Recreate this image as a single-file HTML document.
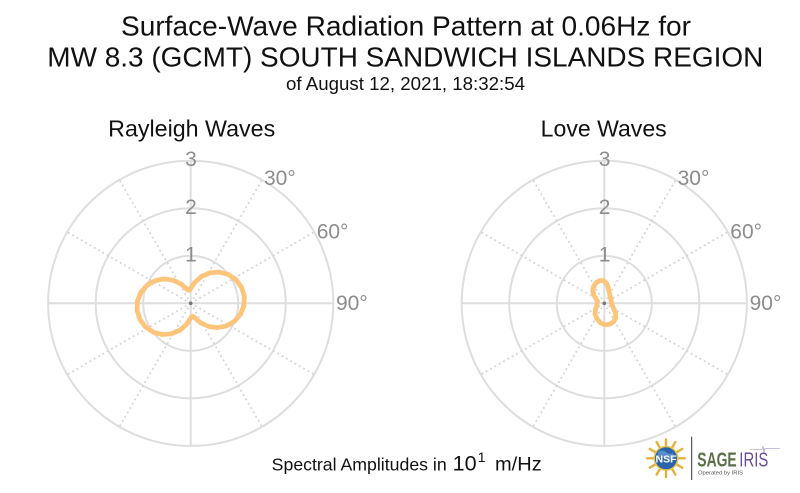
<!DOCTYPE html>
<html>
<head>
<meta charset="utf-8">
<style>
html,body{margin:0;padding:0;background:#fff;}
svg{display:block;}
text{font-family:"Liberation Sans",Arial,sans-serif;}
</style>
</head>
<body>
<svg width="800" height="493" viewBox="0 0 800 493" xmlns="http://www.w3.org/2000/svg">
<rect width="800" height="493" fill="#fff"/>

<!-- Titles -->
<text x="406" y="35.7" font-size="28" fill="#111" text-anchor="middle" textLength="570" lengthAdjust="spacingAndGlyphs">Surface-Wave Radiation Pattern at 0.06Hz for</text>
<text x="405.3" y="66.7" font-size="28" fill="#111" text-anchor="middle" textLength="716" lengthAdjust="spacingAndGlyphs">MW 8.3 (GCMT) SOUTH SANDWICH ISLANDS REGION</text>
<text x="405.5" y="90" font-size="18.6" fill="#111" text-anchor="middle" textLength="239" lengthAdjust="spacingAndGlyphs">of August 12, 2021, 18:32:54</text>
<text x="191.7" y="136.7" font-size="23" fill="#111" text-anchor="middle" textLength="167" lengthAdjust="spacingAndGlyphs">Rayleigh Waves</text>
<text x="603.7" y="136.7" font-size="23" fill="#111" text-anchor="middle" textLength="126" lengthAdjust="spacingAndGlyphs">Love Waves</text>

<!-- Left polar grid -->
<g transform="translate(190.7,303.3)">
  <g fill="none" stroke="#dedede" stroke-width="2">
    <circle r="47.53"/><circle r="95.07"/><circle r="142.6"/>
    <line x1="0" y1="-142.6" x2="0" y2="142.6"/>
    <line x1="-142.6" y1="0" x2="142.6" y2="0"/>
  </g>
  <g stroke="#d4d4d4" stroke-width="1.8" stroke-dasharray="1.8 3.2">
    <line x1="0" y1="0" x2="71.3" y2="-123.5"/>
    <line x1="0" y1="0" x2="123.5" y2="-71.3"/>
    <line x1="0" y1="0" x2="123.5" y2="71.3"/>
    <line x1="0" y1="0" x2="71.3" y2="123.5"/>
    <line x1="0" y1="0" x2="-71.3" y2="123.5"/>
    <line x1="0" y1="0" x2="-123.5" y2="71.3"/>
    <line x1="0" y1="0" x2="-123.5" y2="-71.3"/>
    <line x1="0" y1="0" x2="-71.3" y2="-123.5"/>
  </g>
</g>
<g font-size="21" fill="#8c8c8c">
  <text x="191" y="166" text-anchor="middle">3</text>
  <text x="191" y="214" text-anchor="middle">2</text>
  <text x="191" y="261.7" text-anchor="middle">1</text>
  <text x="264" y="185">30°</text>
  <text x="316.7" y="238.3">60°</text>
  <text x="336" y="310">90°</text>
</g>

<!-- Right polar grid -->
<g transform="translate(604.3,303.3)">
  <g fill="none" stroke="#dedede" stroke-width="2">
    <circle r="47.53"/><circle r="95.07"/><circle r="142.6"/>
    <line x1="0" y1="-142.6" x2="0" y2="142.6"/>
    <line x1="-142.6" y1="0" x2="142.6" y2="0"/>
  </g>
  <g stroke="#d4d4d4" stroke-width="1.8" stroke-dasharray="1.8 3.2">
    <line x1="0" y1="0" x2="71.3" y2="-123.5"/>
    <line x1="0" y1="0" x2="123.5" y2="-71.3"/>
    <line x1="0" y1="0" x2="123.5" y2="71.3"/>
    <line x1="0" y1="0" x2="71.3" y2="123.5"/>
    <line x1="0" y1="0" x2="-71.3" y2="123.5"/>
    <line x1="0" y1="0" x2="-123.5" y2="71.3"/>
    <line x1="0" y1="0" x2="-123.5" y2="-71.3"/>
    <line x1="0" y1="0" x2="-71.3" y2="-123.5"/>
  </g>
</g>
<g font-size="21" fill="#8c8c8c" transform="translate(413.6,0)">
  <text x="191" y="166" text-anchor="middle">3</text>
  <text x="191" y="214" text-anchor="middle">2</text>
  <text x="191" y="261.7" text-anchor="middle">1</text>
  <text x="264" y="185">30°</text>
  <text x="316.7" y="238.3">60°</text>
  <text x="336" y="310">90°</text>
</g>

<!-- Rayleigh curve -->
<polygon fill="none" stroke="#fdc57b" stroke-width="4.8" stroke-linejoin="round"
points="188.98,290.41 190.07,289.53 191.37,287.44 193.12,284.65 195.46,281.65 201.86,276.21 210.08,272.75 219.21,272.09 228.16,274.44 235.90,279.66 241.52,287.19 244.31,296.14 243.96,305.52 240.52,314.26 234.42,321.32 226.39,325.95 217.42,327.69 208.58,326.51 200.97,322.95 197.93,320.67 195.50,318.43 193.71,316.75 192.42,316.19 191.33,317.07 190.03,319.16 188.28,321.95 185.94,324.95 179.54,330.39 171.32,333.85 162.19,334.51 153.24,332.16 145.50,326.94 139.88,319.41 137.09,310.46 137.44,301.08 140.88,292.34 146.98,285.28 155.01,280.65 163.98,278.91 172.82,280.09 180.43,283.65 183.47,285.93 185.90,288.17 187.69,289.85"/>

<!-- Love curve -->
<polygon fill="none" stroke="#fdc57b" stroke-width="4.8" stroke-linejoin="round"
points="610.7,298.8 609.3,292.3 608.1,287.3 606.5,283.1 603.5,280.7 600,280.5 596.5,282.5 593.7,286.3 592.7,290.8 593.7,294.8 596,298.8 597.5,301.8 596.7,305.8 595.3,309.8 595.1,314.3 596.9,318.8 600.5,322.8 605,324.8 609.5,324.3 613.5,321.8 615.7,317.8 615.5,313.3 613.8,308.8 611.7,303.8"/>

<!-- center dots -->
<circle cx="190.7" cy="303.3" r="1.8" fill="#777"/>
<circle cx="604.3" cy="303.3" r="1.8" fill="#777"/>

<!-- Bottom axis label -->
<text x="271.7" y="470.5" font-size="17.6" fill="#111" textLength="175" lengthAdjust="spacingAndGlyphs">Spectral Amplitudes in</text>
<text x="452.7" y="470.5" font-size="21.5" fill="#111" textLength="24" lengthAdjust="spacingAndGlyphs">10</text>
<text x="477.8" y="462" font-size="14" fill="#111">1</text>
<text x="495" y="470.5" font-size="19" fill="#111" textLength="46.7" lengthAdjust="spacingAndGlyphs">m/Hz</text>

<!-- Logo -->
<g>
  <g stroke="#e3b23c" stroke-width="2.4" stroke-linecap="round">
    <line x1="666" y1="458.3" x2="666" y2="439.5"/>
    <line x1="666" y1="458.3" x2="675.4" y2="442"/>
    <line x1="666" y1="458.3" x2="682.3" y2="448.9"/>
    <line x1="666" y1="458.3" x2="684.8" y2="458.3"/>
    <line x1="666" y1="458.3" x2="682.3" y2="467.7"/>
    <line x1="666" y1="458.3" x2="675.4" y2="474.6"/>
    <line x1="666" y1="458.3" x2="666" y2="477.1"/>
    <line x1="666" y1="458.3" x2="656.6" y2="474.6"/>
    <line x1="666" y1="458.3" x2="649.7" y2="467.7"/>
    <line x1="666" y1="458.3" x2="647.2" y2="458.3"/>
    <line x1="666" y1="458.3" x2="649.7" y2="448.9"/>
    <line x1="666" y1="458.3" x2="656.6" y2="442"/>
  </g>
  <circle cx="666" cy="458.3" r="12.5" fill="#e9c24c"/>
  <circle cx="666" cy="458.3" r="11" fill="#2c63ad"/>
  <path d="M658,452 q4,-3 8,0 q3,3 7,1 l1,5 q-4,2 -7,0 q-5,-2 -9,2 z" fill="#6fa0d8" opacity="0.7"/>
  <text x="666" y="462.3" font-family="Liberation Serif,serif" font-size="10.5" font-weight="bold" fill="#fff" text-anchor="middle">NSF</text>
  <line x1="691.7" y1="436.7" x2="691.7" y2="480" stroke="#333" stroke-width="1"/>
  <text x="697.3" y="466.7" font-size="20" font-weight="bold" fill="#5b7048" textLength="39.4" lengthAdjust="spacingAndGlyphs">SAGE</text>
  <text x="739.3" y="466.7" font-family="Liberation Serif,serif" font-size="20" fill="#6a4c9c" textLength="29" lengthAdjust="spacingAndGlyphs">IRIS</text>
  <path d="M750,449.3 H762 l1,-3 l1,6 l1,-4 H780" fill="none" stroke="#a898c8" stroke-width="0.7"/>
  <text x="698" y="474.3" font-size="5.5" fill="#555" textLength="45" lengthAdjust="spacingAndGlyphs">Operated by IRIS</text>
</g>
</svg>
</body>
</html>
